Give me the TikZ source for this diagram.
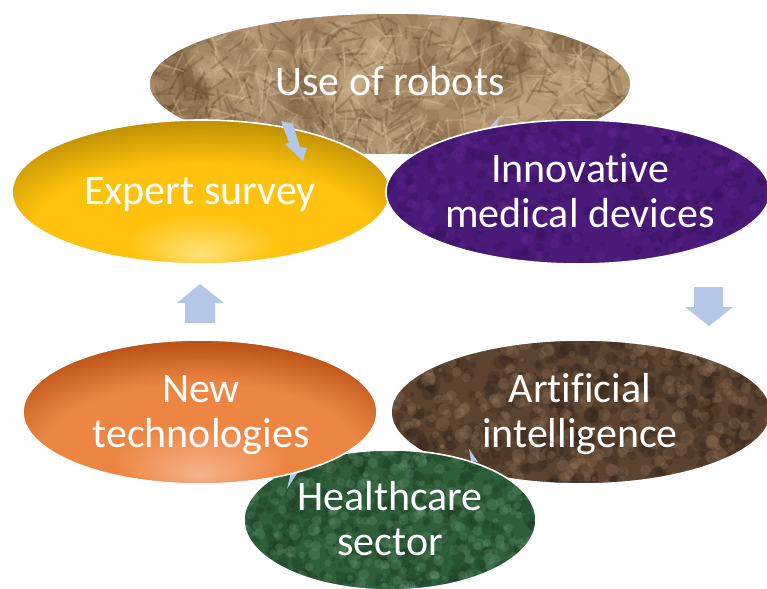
\documentclass[tikz,border=0pt]{standalone}
\usepackage{fontspec}
\setmainfont[Ligatures=NoCommon]{Carlito}
\usetikzlibrary{calc,shapes.geometric}
\definecolor{arrowblue}{HTML}{B4C7E7}
\definecolor{paper}{HTML}{A98A66}
\definecolor{paperdark}{HTML}{5E4428}
\definecolor{paperlight}{HTML}{E2C9A2}
\definecolor{gold1}{HTML}{FFE27A}
\definecolor{gold2}{HTML}{FFC20E}
\definecolor{gold3}{HTML}{B58A00}
\definecolor{purp}{HTML}{4A1A78}
\definecolor{purpdark}{HTML}{33105A}
\definecolor{purplight}{HTML}{6A2E9A}
\definecolor{aibrown}{HTML}{5C4330}
\definecolor{aidark}{HTML}{33241A}
\definecolor{ailight}{HTML}{9A7E62}
\definecolor{or1}{HTML}{F4B48C}
\definecolor{or2}{HTML}{EE8643}
\definecolor{or3}{HTML}{BC5418}
\definecolor{grn}{HTML}{2F5F3A}
\definecolor{grndark}{HTML}{1A3A22}
\definecolor{grnlight}{HTML}{6E9A78}
\pgfdeclareradialshading{goldshade}{\pgfpoint{0bp}{-22bp}}{color(0bp)=(gold1); color(10bp)=(gold2); color(22bp)=(gold2); color(34bp)=(gold3); color(50bp)=(gold3)}
\pgfdeclareradialshading{orangeshade}{\pgfpoint{0bp}{-22bp}}{color(0bp)=(or1); color(12bp)=(or2); color(22bp)=(or2); color(32bp)=(or3); color(50bp)=(or3)}
% random texture helpers (used inside path picture)
\newcommand\strokes[7]{% seed, count, rx, ry, color, opacity, width
  \pgfmathsetseed{#1}%
  \foreach \i in {1,...,#2}{%
    \pgfmathsetmacro\dx{rand*#3}%
    \pgfmathsetmacro\dy{rand*#4}%
    \pgfmathsetmacro\ang{rnd*180}%
    \pgfmathsetmacro\len{8+rnd*26}%
    \draw[#5, opacity=#6, line width=#7, line cap=round]
      ($(path picture bounding box.center)+(\dx,\dy)$) -- ++(\ang:\len);
  }}
\newcommand\blobs[8]{% seed, count, rx, ry, color, opacity, min radius, extra radius
  \pgfmathsetseed{#1}%
  \foreach \i in {1,...,#2}{%
    \pgfmathsetmacro\dx{rand*#3}%
    \pgfmathsetmacro\dy{rand*#4}%
    \pgfmathsetmacro\rr{#7+rnd*#8}%
    \fill[#5, opacity=#6]
      ($(path picture bounding box.center)+(\dx,\dy)$) circle[radius=\rr pt];
  }}
\tikzset{
  oval/.style={ellipse, draw=white, line width=1.6pt, inner sep=0pt},
  lbl/.style={text=white, font=\fontsize{42}{45}\selectfont, align=center, anchor=base, inner sep=0pt},
  blockarrow/.style={fill=arrowblue, draw=none}
}
\begin{document}
\begin{tikzpicture}[x=1pt, y=-1pt]
\useasboundingbox (0,0) rectangle (767,588);
\fill[white] (0,0) rectangle (767,588);

% Use of robots
\node[oval, fill=paper, minimum width=482pt, minimum height=142pt,
  path picture={\blobs{41}{120}{240}{70}{paperdark}{0.14}{8}{18}
                \blobs{43}{120}{240}{70}{paperlight}{0.15}{8}{18}
                \strokes{3}{280}{240}{70}{paperdark}{0.28}{2.2pt}
                \strokes{5}{240}{240}{70}{paperlight}{0.3}{1.8pt}}] (robots) at (390,84) {};
% hidden arrow sliver robots -> innovative
\fill[blockarrow] (490,127) -- (499,117) -- (497,126) -- cycle;

% Expert survey
\node[oval, shading=goldshade, minimum width=378pt, minimum height=144pt] (expert) at (201,192) {};
% Innovative medical devices
\node[oval, fill=purp, minimum width=384pt, minimum height=144pt,
  path picture={\blobs{11}{300}{190}{72}{purpdark}{0.3}{2}{5}
                \blobs{13}{200}{190}{72}{purplight}{0.25}{2}{4}}] (innov) at (578,192) {};

% arrow robots -> expert (visible)
\fill[blockarrow] (281,121) -- (293,124) -- (300,147) -- (307,148) -- (303,161) -- (285,144) -- (289,143) -- cycle;

% up arrow (new technologies -> expert survey)
\coordinate (upA) at (200,284);
\fill[blockarrow] (185,323) -- (185,303) -- (177,303) -- (upA) -- (224,303) -- (215,303) -- (215,323) -- cycle;
% down arrow (innovative -> artificial intelligence)
\coordinate (downA) at (709,326);
\fill[blockarrow] (694,287) -- (723,287) -- (723,307) -- (733,307) -- (downA) -- (685,307) -- (694,307) -- cycle;

% Artificial intelligence
\node[oval, fill=aibrown, minimum width=380pt, minimum height=144pt,
  path picture={\blobs{21}{500}{190}{72}{aidark}{0.3}{2}{6}
                \blobs{23}{300}{190}{72}{ailight}{0.25}{2}{5}}] (ai) at (581,412) {};
\fill[blockarrow] (469,449) -- (478,462) -- (471,461) -- cycle;

% Healthcare sector
\node[oval, fill=grn, minimum width=292pt, minimum height=140pt,
  path picture={\blobs{31}{450}{146}{70}{grndark}{0.3}{2}{5}
                \blobs{33}{300}{146}{70}{grnlight}{0.25}{2}{4}}] (health) at (390,520) {};
\fill[blockarrow] (298,472) -- (287,489) -- (291,472) -- cycle;

% New technologies
\node[oval, shading=orangeshade, minimum width=354pt, minimum height=144pt] (newtech) at (200,412) {};

% labels (anchor=base is the baseline of the last line)
\node[lbl] (t1) at (390,96) {Use of robots};
\node[lbl] (t2) at (200,204) {Expert survey};
\node[lbl] (t3) at (580,227) {Innovative\\medical devices};
\node[lbl] (t4) at (580,447) {Artificial\\intelligence};
\node[lbl] (t5) at (201,447) {New\\technologies};
\node[lbl] (t6) at (390,555) {Healthcare\\sector};
\end{tikzpicture}
\end{document}
